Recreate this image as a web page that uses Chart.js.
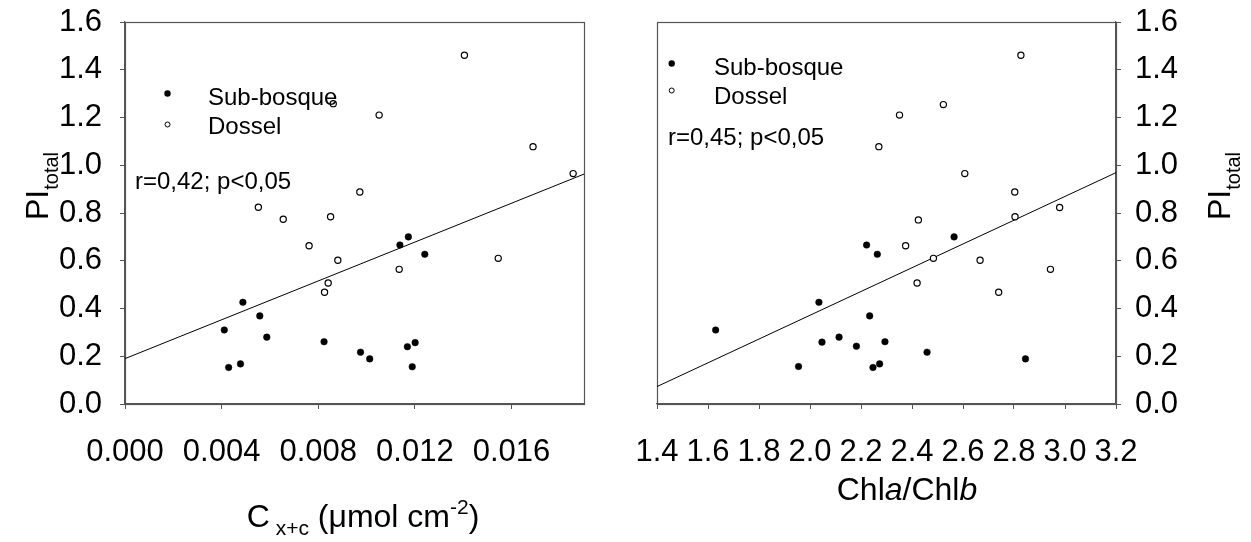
<!DOCTYPE html>
<html><head><meta charset="utf-8">
<script src="https://cdn.jsdelivr.net/npm/chart.js@4.4.1/dist/chart.umd.min.js"></script>
<style>
html,body{margin:0;padding:0;background:#fff;}
#wrap{position:relative;width:1251px;height:542px;background:#fff;}
canvas{position:absolute;left:0;top:0;}
</style>
</head><body>
<div id="wrap"><canvas id="c1" width="1251" height="542"></canvas><canvas id="c2" width="1251" height="542"></canvas></div>
<script>
// ---- Data ----
const seriesNames = ["Sub-bosque", "Dossel"];

// Left panel: Cx+c (µmol cm-2) vs PItotal
const leftSubX = [0.00411,0.00429,0.00478,0.00488,0.00558,0.00587,0.00824,0.00975,0.01013,0.01138,0.01173,0.01241,0.01169,0.01201,0.01189];
const leftSubY = [0.310,0.153,0.168,0.426,0.369,0.280,0.261,0.217,0.189,0.666,0.700,0.627,0.240,0.257,0.156];
const leftDosX = [0.00552,0.00655,0.00762,0.00826,0.00841,0.00851,0.00862,0.00881,0.00972,0.01052,0.01135,0.01405,0.01545,0.01689,0.01855];
const leftDosY = [0.824,0.774,0.663,0.468,0.507,0.784,1.258,0.602,0.888,1.210,0.564,1.461,0.610,1.078,0.965];
const leftFitX = [0, 0.019];
const leftFitY = [0.19, 0.963];
const leftXTicks = [0.000,0.004,0.008,0.012,0.016];

// Right panel: Chla/Chlb vs PItotal
const rightSubX = [1.630,1.955,2.035,2.047,2.114,2.182,2.222,2.234,2.247,2.264,2.273,2.294,2.459,2.565,2.845];
const rightSubY = [0.310,0.157,0.426,0.259,0.280,0.242,0.666,0.369,0.153,0.627,0.168,0.261,0.217,0.700,0.189];
const rightDosX = [2.270,2.351,2.375,2.420,2.425,2.484,2.523,2.607,2.667,2.740,2.803,2.804,2.827,2.943,2.979];
const rightDosY = [1.078,1.210,0.663,0.507,0.771,0.610,1.254,0.965,0.602,0.468,0.888,0.784,1.461,0.564,0.823];
const rightFitX = [1.4, 3.2];
const rightFitY = [0.073, 0.969];
const rightXTicks = [1.4,1.6,1.8,2.0,2.2,2.4,2.6,2.8,3.0,3.2];

const yTicks = [0.0,0.2,0.4,0.6,0.8,1.0,1.2,1.4,1.6];
const statLeft = "r=0,42; p<0,05";
const statRight = "r=0,45; p<0,05";

// ---- helpers ----
const FAM = '"Liberation Sans", Arial, Helvetica, sans-serif';
const AX = '#555';
const pts = (xs, ys) => xs.map((x, i) => ({x, y: ys[i]}));

function drawRuns(ctx, runs, cx, by) {
  let total = 0;
  runs.forEach(r => { ctx.font = (r.italic ? 'italic ' : '') + r.size + 'px ' + FAM; r.w = ctx.measureText(r.t).width; total += r.w; });
  let x = cx - total / 2;
  ctx.textAlign = 'left'; ctx.textBaseline = 'alphabetic'; ctx.fillStyle = '#000';
  runs.forEach(r => { ctx.font = (r.italic ? 'italic ' : '') + r.size + 'px ' + FAM; ctx.fillText(r.t, x, by + (r.dy || 0)); x += r.w; });
}
function dot(ctx, x, y, r, filled) {
  ctx.beginPath(); ctx.arc(x, y, r, 0, Math.PI * 2);
  if (filled) { ctx.fillStyle = '#000'; ctx.fill(); }
  else { ctx.fillStyle = '#fff'; ctx.fill(); ctx.lineWidth = 1; ctx.strokeStyle = '#000'; ctx.stroke(); }
}
function text(ctx, t, x, y, size) {
  ctx.font = size + 'px ' + FAM; ctx.fillStyle = '#000'; ctx.textAlign = 'left'; ctx.textBaseline = 'alphabetic';
  ctx.fillText(t, x, y);
}

function makeChart(id, cfg) {
  const tickFont = {family: FAM, size: 31};
  const datasets = [
    {label: seriesNames[0], data: pts(cfg.subX, cfg.subY), pointRadius: 3.3, pointBackgroundColor: '#000', pointBorderColor: '#000', pointBorderWidth: 0.5, showLine: false},
    {label: seriesNames[1], data: pts(cfg.dosX, cfg.dosY), pointRadius: 3.1, pointBackgroundColor: '#fff', pointBorderColor: '#000', pointBorderWidth: 1.2, showLine: false},
    {label: 'fit', data: pts(cfg.fitX, cfg.fitY), showLine: true, pointRadius: 0, borderColor: '#000', borderWidth: 1, fill: false}
  ];
  const frame = {
    id: 'frame' + id,
    beforeDatasetsDraw(chart) {
      const a = chart.chartArea, ctx = chart.ctx;
      ctx.save(); ctx.strokeStyle = AX; ctx.lineWidth = 1.2;
      ctx.strokeRect(Math.round(a.left) + 0.5, Math.round(a.top) + 0.5, Math.round(a.right - a.left), Math.round(a.bottom - a.top));
      ctx.restore();
    },
    afterDraw(chart) { const ctx = chart.ctx; ctx.save(); cfg.decor(ctx); ctx.restore(); }
  };
  return new Chart(document.getElementById(id), {
    type: 'scatter',
    data: {datasets},
    options: {
      responsive: false, animation: false, events: [],
      layout: {padding: cfg.padding},
      plugins: {legend: {display: false}, tooltip: {enabled: false}},
      scales: {
        x: {
          type: 'linear', min: cfg.xmin, max: cfg.xmax,
          afterBuildTicks: s => { s.ticks = cfg.xTicks.map(v => ({value: v})); },
          afterFit: s => { s.height = 138; },
          ticks: {callback: v => v.toFixed(cfg.xDec), font: tickFont, color: '#000', padding: 25, maxRotation: 0, minRotation: 0, autoSkip: false},
          grid: {display: true, drawOnChartArea: false, drawTicks: true, tickLength: 5, color: AX, tickColor: AX, lineWidth: 1},
          border: {display: true, color: AX, width: 1.2}
        },
        y: {
          type: 'linear', min: 0, max: 1.6, position: cfg.yPos,
          afterBuildTicks: s => { s.ticks = yTicks.map(v => ({value: v})); },
          afterFit: s => { s.width = cfg.yWidth; s.paddingTop = 0; s.paddingBottom = 0; },
          ticks: {callback: v => v.toFixed(1), font: tickFont, color: '#000', padding: cfg.yPad, autoSkip: false},
          grid: {display: true, drawOnChartArea: false, drawTicks: true, tickLength: 5, color: AX, tickColor: AX, lineWidth: 1},
          border: {display: true, color: AX, width: 1.2}
        }
      }
    },
    plugins: [frame]
  });
}

function yTitle(ctx, bx, cy) {
  ctx.save(); ctx.translate(bx, cy); ctx.rotate(-Math.PI / 2);
  drawRuns(ctx, [{t: 'PI', size: 32}, {t: 'total', size: 20, dy: 10}], 0, 0);
  ctx.restore();
}

makeChart('c1', {
  subX: leftSubX, subY: leftSubY, dosX: leftDosX, dosY: leftDosY, fitX: leftFitX, fitY: leftFitY,
  xmin: 0, xmax: 0.019, xTicks: leftXTicks, xDec: 3,
  padding: {left: 0, top: 22, right: 1251 - 584, bottom: 0},
  yPos: 'left', yWidth: 125, yPad: 18,
  decor(ctx) {
    dot(ctx, 167.5, 93.5, 3.2, true);
    dot(ctx, 167.5, 124.5, 2.5, false);
    text(ctx, seriesNames[0], 208, 105, 24);
    text(ctx, seriesNames[1], 208, 134, 24);
    text(ctx, statLeft, 135, 189, 24);
    drawRuns(ctx, [{t: 'C', size: 32}, {t: ' x+c', size: 21, dy: 8}, {t: ' (\u03bcmol cm', size: 32}, {t: '-2', size: 21, dy: -13}, {t: ')', size: 32}], 363, 527);
    yTitle(ctx, 48, 186);
  }
});

makeChart('c2', {
  subX: rightSubX, subY: rightSubY, dosX: rightDosX, dosY: rightDosY, fitX: rightFitX, fitY: rightFitY,
  xmin: 1.4, xmax: 3.2, xTicks: rightXTicks, xDec: 1,
  padding: {left: 657, top: 22, right: 0, bottom: 0},
  yPos: 'right', yWidth: 1251 - 1116, yPad: 14,
  decor(ctx) {
    dot(ctx, 671.7, 63.5, 3.2, true);
    dot(ctx, 671.7, 90.5, 2.5, false);
    text(ctx, seriesNames[0], 714, 75, 24);
    text(ctx, seriesNames[1], 714, 104, 24);
    text(ctx, statRight, 668, 145, 24);
    drawRuns(ctx, [{t: 'Chl', size: 32}, {t: 'a', size: 32, italic: true}, {t: '/Chl', size: 32}, {t: 'b', size: 32, italic: true}], 907, 500);
    yTitle(ctx, 1230, 186);
  }
});
</script>
</body></html>
